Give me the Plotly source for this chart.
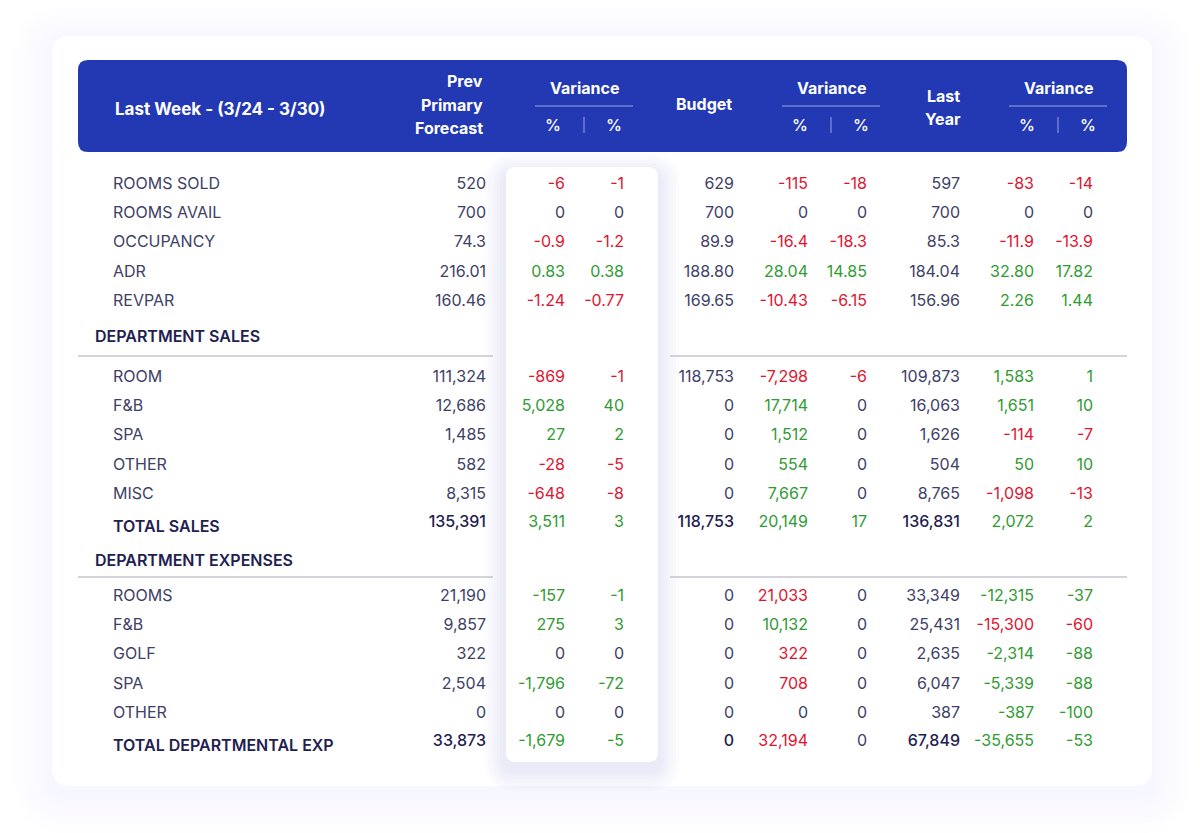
"""
Weekly hotel performance table (last week vs forecast, budget and last year),
drawn with Plotly as text marks on pixel-scaled axes.
"""
import plotly.graph_objects as go

# --- Data ---
TITLE = "Last Week - (3/24 - 3/30)"

STAT_LABELS = ["ROOMS SOLD", "ROOMS AVAIL", "OCCUPANCY", "ADR", "REVPAR"]
STAT_DECIMALS = [0, 0, 1, 2, 2]
SALES_LABELS = ["ROOM", "F&B", "SPA", "OTHER", "MISC", "TOTAL SALES"]
EXP_LABELS = ["ROOMS", "F&B", "GOLF", "SPA", "OTHER", "TOTAL DEPARTMENTAL EXP"]
SECTION_TITLES = ["DEPARTMENT SALES", "DEPARTMENT EXPENSES"]

# columns: forecast, var, var%, budget, var, var%, last year, var, var%
STAT_VALUES = [
    [520, -6, -1, 629, -115, -18, 597, -83, -14],
    [700, 0, 0, 700, 0, 0, 700, 0, 0],
    [74.3, -0.9, -1.2, 89.9, -16.4, -18.3, 85.3, -11.9, -13.9],
    [216.01, 0.83, 0.38, 188.80, 28.04, 14.85, 184.04, 32.80, 17.82],
    [160.46, -1.24, -0.77, 169.65, -10.43, -6.15, 156.96, 2.26, 1.44],
]
# n = neutral, r = unfavourable, g = favourable
STAT_TONES = ["nrrnrrnrr", "nnnnnnnnn", "nrrnrrnrr", "nggnggngg", "nrrnrrngg"]
SALES_VALUES = [
    [111324, -869, -1, 118753, -7298, -6, 109873, 1583, 1],
    [12686, 5028, 40, 0, 17714, 0, 16063, 1651, 10],
    [1485, 27, 2, 0, 1512, 0, 1626, -114, -7],
    [582, -28, -5, 0, 554, 0, 504, 50, 10],
    [8315, -648, -8, 0, 7667, 0, 8765, -1098, -13],
    [135391, 3511, 3, 118753, 20149, 17, 136831, 2072, 2],
]
SALES_TONES = ["nrrnrrngg", "nggngnngg", "nggngnnrr", "nrrngnngg", "nrrngnnrr", "nggnggngg"]
EXP_VALUES = [
    [21190, -157, -1, 0, 21033, 0, 33349, -12315, -37],
    [9857, 275, 3, 0, 10132, 0, 25431, -15300, -60],
    [322, 0, 0, 0, 322, 0, 2635, -2314, -88],
    [2504, -1796, -72, 0, 708, 0, 6047, -5339, -88],
    [0, 0, 0, 0, 0, 0, 387, -387, -100],
    [33873, -1679, -5, 0, 32194, 0, 67849, -35655, -53],
]
EXP_TONES = ["nggnrnngg", "nggngnnrr", "nnnnrnngg", "nggnrnngg", "nnnnnnngg", "nggnrnngg"]

# --- Styling / layout ---
W, H = 1200, 833
PAGE_PAD = 8  # default body margin of the html page
FONT = "Inter, Roboto, sans-serif"
BLUE = "#2339B3"
TEXT = "#3E4066"
DARK = "#1F2150"
TONE_COLORS = {"n": TEXT, "r": "#E0142F", "g": "#2F9B32"}
COL_X = [486, 565, 624, 734, 808, 867, 960, 1034, 1093]
LABEL_X, SECTION_X = 113, 95
ROW_STEP = 29.4
STAT_Y0, SALES_Y0, EXP_Y0 = 183, 376, 595
SECTION_Y = [338, 562]
RULE_Y = [356, 577]


def rrect(x0, y0, x1, y1, r):
    return (f"M {x0 + r},{y0} L {x1 - r},{y0} Q {x1},{y0} {x1},{y0 + r} "
            f"L {x1},{y1 - r} Q {x1},{y1} {x1 - r},{y1} L {x0 + r},{y1} "
            f"Q {x0},{y1} {x0},{y1 - r} L {x0},{y0 + r} Q {x0},{y0} {x0 + r},{y0} Z")


def fmt(v, d):
    return f"{v:,.{d}f}"


fig = go.Figure()
shapes = []

# card shadow + card
for i in range(8, 0, -1):
    g = i * 5
    shapes.append(dict(type="path", path=rrect(52 - g, 36 - g + 8, 1152 + g, 786 + g + 8, 18 + g),
                       fillcolor="rgba(205,210,240,0.028)", line_width=0, layer="below"))
shapes.append(dict(type="path", path=rrect(52, 36, 1152, 786, 18),
                   fillcolor="white", line_width=0, layer="below"))
# header band
shapes.append(dict(type="path", path=rrect(78, 60, 1127, 152, 10),
                   fillcolor=BLUE, line_width=0, layer="below"))
# highlighted column panel shadow + panel
for i in range(7, 0, -1):
    g = i * 3
    shapes.append(dict(type="path", path=rrect(506 - g, 167 - g + 8, 658 + g, 762 + g + 8, 10 + g),
                       fillcolor="rgba(205,208,242,0.055)", line_width=0, layer="below"))
shapes.append(dict(type="path", path=rrect(506, 167, 658, 762, 10),
                   fillcolor="white", line_width=0, layer="below"))
# section rules
for y in RULE_Y:
    shapes.append(dict(type="line", x0=78, x1=493, y0=y, y1=y, line=dict(color="#A9AAB4", width=1)))
    shapes.append(dict(type="line", x0=670, x1=1127, y0=y, y1=y, line=dict(color="#A9AAB4", width=1)))
# header variance rules and separators
for cx in [584, 831, 1058]:
    shapes.append(dict(type="line", x0=cx - 49, x1=cx + 49, y0=106, y1=106,
                       line=dict(color="rgba(255,255,255,0.55)", width=1)))
    shapes.append(dict(type="line", x0=cx, x1=cx, y0=117, y1=133,
                       line=dict(color="rgba(255,255,255,0.55)", width=1)))


def add_block(labels, values, tones, y0, decimals=None):
    n = len(labels)
    ys = [y0 + i * ROW_STEP for i in range(n)]
    last_total = labels[-1].startswith("TOTAL")
    reg = list(range(n - 1)) if last_total else list(range(n))
    # row labels
    fig.add_trace(go.Scatter(
        x=[LABEL_X] * len(reg), y=[ys[i] + 1.5 for i in reg], mode="text",
        text=[labels[i] for i in reg], textposition="middle right",
        textfont=dict(family=FONT, size=16, color=TEXT), hoverinfo="skip"))
    if last_total:
        fig.add_trace(go.Scatter(
            x=[LABEL_X], y=[ys[-1] + 4.5], mode="text", text=[labels[-1]],
            textposition="middle right",
            textfont=dict(family=FONT, size=16, color=DARK, weight=600), hoverinfo="skip"))
    for c, cx in enumerate(COL_X):
        txt = [fmt(values[i][c], decimals[i] if decimals else 0) for i in range(n)]
        cols = [TONE_COLORS[tones[i][c]] for i in range(n)]
        if last_total and c % 3 == 0:
            cols[-1] = DARK
        fig.add_trace(go.Scatter(
            x=[cx] * len(reg), y=[ys[i] + 1.5 for i in reg], mode="text",
            text=[txt[i] for i in reg], textposition="middle left",
            textfont=dict(family=FONT, size=16, color=[cols[i] for i in reg]),
            hoverinfo="skip"))
        if last_total:
            fig.add_trace(go.Scatter(
                x=[cx], y=[ys[-1]], mode="text", text=[txt[-1]],
                textposition="middle left",
                textfont=dict(family=FONT, size=16, color=cols[-1],
                              weight=500 if c % 3 == 0 else 400),
                hoverinfo="skip"))


add_block(STAT_LABELS, STAT_VALUES, STAT_TONES, STAT_Y0, STAT_DECIMALS)
add_block(SALES_LABELS, SALES_VALUES, SALES_TONES, SALES_Y0)
add_block(EXP_LABELS, EXP_VALUES, EXP_TONES, EXP_Y0)

# section headings
fig.add_trace(go.Scatter(
    x=[SECTION_X] * 2, y=SECTION_Y, mode="text", text=SECTION_TITLES,
    textposition="middle right",
    textfont=dict(family=FONT, size=16, color=DARK, weight=600), hoverinfo="skip"))

# header text
hdr = dict(family=FONT, size=16, color="white", weight=700)
ann = [
    dict(x=113, y=109, text=TITLE, xanchor="left", font=dict(hdr, size=17)),
    dict(x=485, y=81, text="Prev", xanchor="right"),
    dict(x=485, y=105, text="Primary", xanchor="right"),
    dict(x=485, y=128, text="Forecast", xanchor="right"),
    dict(x=734, y=104, text="Budget", xanchor="right"),
    dict(x=943, y=96, text="Last", xanchor="center"),
    dict(x=943, y=119, text="Year", xanchor="center"),
]
for cx in [584, 831, 1058]:
    ann.append(dict(x=cx, y=88, text="Variance", xanchor="center"))
    ann.append(dict(x=cx - 31, y=125, text="%", xanchor="center", font=dict(hdr, weight=500)))
    ann.append(dict(x=cx + 30, y=125, text="%", xanchor="center", font=dict(hdr, weight=500)))
for a in ann:
    a.setdefault("font", hdr)
    a.update(xref="x", yref="y", yanchor="middle", showarrow=False)

fig.update_layout(
    width=W, height=H, margin=dict(l=0, r=0, t=0, b=0),
    paper_bgcolor="white", plot_bgcolor="white", showlegend=False,
    xaxis=dict(range=[PAGE_PAD, W + PAGE_PAD], visible=False, fixedrange=True),
    yaxis=dict(range=[H + PAGE_PAD, PAGE_PAD], visible=False, fixedrange=True),
    shapes=shapes, annotations=ann,
)

fig.write_html("out.html")
